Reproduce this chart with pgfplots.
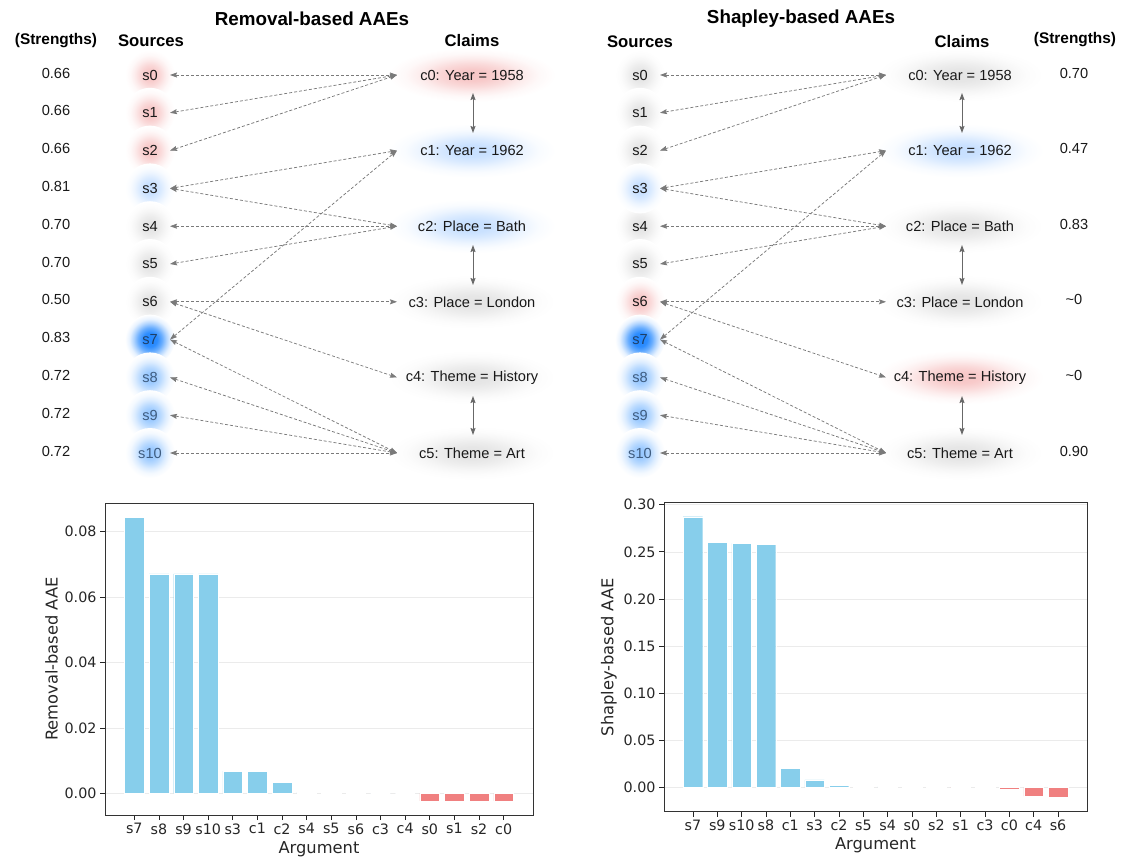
\documentclass[border=0pt]{standalone}
\usepackage{pgfplots}
\pgfplotsset{compat=1.18}
\usepackage{fontspec}
\setmainfont{Liberation Sans}
\newfontfamily\dejavu{DejaVu Sans}
\usetikzlibrary{arrows.meta}

\definecolor{hR}{HTML}{F7C6C6}
\definecolor{hB}{HTML}{C6DFFF}
\definecolor{hG}{HTML}{E4E4E4}
\definecolor{hS}{HTML}{2287FF}
\definecolor{hM}{HTML}{96C7FF}
\definecolor{txtS}{HTML}{1F3F66}
\definecolor{txtM}{HTML}{3E5C80}
\definecolor{edgegray}{HTML}{7A7A7A}
\definecolor{skyb}{HTML}{87CEEB}
\definecolor{lcoral}{HTML}{F08080}

\newcommand\mkhalo[2]{\pgfdeclareradialshading{#1}{\pgfpoint{0bp}{0bp}}{color(0bp)=(#2); color(5.5bp)=(#2!93!white); color(10.5bp)=(#2!66!white); color(15.5bp)=(#2!33!white); color(20bp)=(#2!11!white); color(25bp)=(white); color(50bp)=(white)}}
\mkhalo{haloR}{hR}
\mkhalo{haloB}{hB}
\mkhalo{haloG}{hG}
\mkhalo{haloM}{hM}
\pgfdeclareradialshading{haloS}{\pgfpoint{0bp}{0bp}}{color(0bp)=(hS); color(7bp)=(hS!95!white); color(12bp)=(hS!68!white); color(16.5bp)=(hS!35!white); color(20.5bp)=(hS!11!white); color(25bp)=(white); color(50bp)=(white)}

\newcommand\lab{\fontsize{14.6}{17}\selectfont}
\newcommand\hdr{\fontsize{16.7}{19}\selectfont\bfseries}
\newcommand\hdrs{\fontsize{15.4}{18}\selectfont\bfseries}
\newcommand\ttl{\fontsize{18.8}{22}\selectfont\bfseries}
\newcommand\tickf{\dejavu\fontsize{14.3}{17}\selectfont}
\newcommand\labf{\dejavu\fontsize{16.3}{19}\selectfont}

\tikzset{
  src/.style={circle, shade, shading=#1, minimum size=50pt, font=\lab},
  clh/.style={circle, shade, shading=#1, minimum size=54pt, transform shape, xscale=3.1},
  srcR/.style={src=haloR, text=black!90},
  srcB/.style={src=haloB, text=black!90},
  srcG/.style={src=haloG, text=black!90},
  srcS/.style={src=haloS, text=txtS},
  srcM/.style={src=haloM, text=txtM},
  clR/.style={clh=haloR},
  clB/.style={clh=haloB},
  clG/.style={clh=haloG},
  txt/.style={font=\lab, text=black!90},
  hdrst/.style={font=\hdr, text=black},
  hdrsst/.style={font=\hdrs, text=black},
  ttlst/.style={font=\ttl, text=black},
  edge/.style={draw=edgegray, line width=0.75pt, dash pattern=on 3pt off 2pt,
    arrows={Stealth[length=7pt,width=5pt,inset=1pt]-Stealth[length=7pt,width=5pt,inset=1pt]}},
  vedge/.style={draw=edgegray!85!black, line width=1pt, solid,
    arrows={Stealth[length=7pt,width=5pt,inset=1pt]-Stealth[length=7pt,width=5pt,inset=1pt]}},
}
\pgfplotsset{
  diag/.style={at={(0pt,0pt)}, anchor=north west, scale only axis, width=1128pt, height=480pt,
    xmin=0, xmax=1128, ymin=0, ymax=480, y dir=reverse, hide axis, clip=false},
  lbl/.style={only marks, mark=none, point meta=explicit symbolic, nodes near coords,
    every node near coord/.append style={anchor=center, inner sep=0pt, #1}},
  halo/.style={only marks, mark=none, nodes near coords={},
    every node near coord/.append style={anchor=center, inner sep=0pt, #1}},
  barax/.style={scale only axis, ybar, bar width=0.8, bar shift=0pt, enlargelimits=false,
    xmin=-1.19, xmax=16.19, xtick={0,...,15},
    tick align=outside, major tick length=5pt, xtick pos=left, ytick pos=left,
    tick style={black!85, line width=0.8pt},
    axis line style={black!80, line width=0.8pt},
    ymajorgrids, major grid style={black!8, line width=0.6pt},
    scaled y ticks=false,
    tick label style={font=\tickf, text=black!85},
    yticklabel style={/pgf/number format/.cd, fixed, fixed zerofill, precision=2, assume math mode=true},
    label style={font=\labf, text=black!85},
    xlabel={Argument},
  },
}

\begin{document}
\begin{tikzpicture}
\useasboundingbox (0,0) rectangle (1128pt,-858pt);

% ---------- diagram nodes ----------
\begin{axis}[diag]
% claim halos
\addplot[halo={clR}] coordinates {(472,75) (960,377.4)};
\addplot[halo={clB}] coordinates {(472,150.6) (472,226.2) (960,150.6)};
\addplot[halo={clG}] coordinates {(472,301.8) (472,377.4) (472,453) (960,75) (960,226.2) (960,301.8) (960,453)};
% left sources
\addplot[lbl={srcR}] coordinates {(150,75)[s0] (150,112.8)[s1] (150,150.6)[s2]};
\addplot[lbl={srcB}] coordinates {(150,188.4)[s3]};
\addplot[lbl={srcG}] coordinates {(150,226.2)[s4] (150,264)[s5] (150,301.8)[s6]};
\addplot[lbl={srcS}] coordinates {(150,339.6)[s7]};
\addplot[lbl={srcM}] coordinates {(150,377.4)[s8] (150,415.2)[s9] (150,453)[s10]};
% left claims
\addplot[lbl={txt}] coordinates {(472,75)[c0: Year = 1958] (472,150.6)[c1: Year = 1962] (472,226.2)[c2: Place = Bath] (472,301.8)[c3: Place = London] (472,377.4)[c4: Theme = History] (472,453)[c5: Theme = Art]};
% left strengths
\addplot[lbl={txt}] coordinates {(56,73)[0.66] (56,110.8)[0.66] (56,148.6)[0.66] (56,186.4)[0.81] (56,224.2)[0.70] (56,262)[0.70] (56,299.8)[0.50] (56,337.6)[0.83] (56,375.4)[0.72] (56,413.2)[0.72] (56,451)[0.72]};
% right sources
\addplot[lbl={srcG}] coordinates {(640,75)[s0] (640,112.8)[s1] (640,150.6)[s2] (640,226.2)[s4] (640,264)[s5]};
\addplot[lbl={srcB}] coordinates {(640,188.4)[s3]};
\addplot[lbl={srcR}] coordinates {(640,301.8)[s6]};
\addplot[lbl={srcS}] coordinates {(640,339.6)[s7]};
\addplot[lbl={srcM}] coordinates {(640,377.4)[s8] (640,415.2)[s9] (640,453)[s10]};
% right claims
\addplot[lbl={txt}] coordinates {(960,75)[c0: Year = 1958] (960,150.6)[c1: Year = 1962] (960,226.2)[c2: Place = Bath] (960,301.8)[c3: Place = London] (960,377.4)[c4: Theme = History] (960,453)[c5: Theme = Art]};
% right strengths
\addplot[lbl={txt}] coordinates {(1074,73)[0.70] (1074,148.6)[0.47] (1074,224.2)[0.83] (1074,299.8)[\textasciitilde 0] (1074,375.4)[\textasciitilde 0] (1074,451)[0.90]};
% headers and titles
\addplot[lbl={hdrst}] coordinates {(151,41)[Sources] (472,41)[Claims] (640,42)[Sources] (962,42)[Claims]};
\addplot[lbl={hdrsst}] coordinates {(56,41)[(Strengths)] (1075,40)[(Strengths)]};
\addplot[lbl={ttlst}] coordinates {(312,19)[Removal-based AAEs] (801,19)[Shapley-based AAEs]};
\end{axis}

% ---------- diagram edges (drawn on top) ----------
\begin{axis}[diag]
\addplot[edge] coordinates {(170,75) (397,75)};
\addplot[edge] coordinates {(170,112.8) (397,75)};
\addplot[edge] coordinates {(170,150.6) (397,75)};
\addplot[edge] coordinates {(170,188.4) (397,150.6)};
\addplot[edge] coordinates {(170,188.4) (397,226.2)};
\addplot[edge] coordinates {(170,226.2) (397,226.2)};
\addplot[edge] coordinates {(170,264) (397,226.2)};
\addplot[edge] coordinates {(170,339.6) (397,150.6)};
\addplot[edge] coordinates {(170,301.8) (397,301.8)};
\addplot[edge] coordinates {(170,301.8) (397,377.4)};
\addplot[edge] coordinates {(170,339.6) (397,453)};
\addplot[edge] coordinates {(170,377.4) (397,453)};
\addplot[edge] coordinates {(170,415.2) (397,453)};
\addplot[edge] coordinates {(170,453) (397,453)};
\addplot[vedge] coordinates {(473,93) (473,133)};
\addplot[vedge] coordinates {(473,245) (473,285)};
\addplot[vedge] coordinates {(473,396) (473,435)};
\addplot[edge] coordinates {(660,75) (886,75)};
\addplot[edge] coordinates {(660,112.8) (886,75)};
\addplot[edge] coordinates {(660,150.6) (886,75)};
\addplot[edge] coordinates {(660,188.4) (886,150.6)};
\addplot[edge] coordinates {(660,188.4) (886,226.2)};
\addplot[edge] coordinates {(660,226.2) (886,226.2)};
\addplot[edge] coordinates {(660,264) (886,226.2)};
\addplot[edge] coordinates {(660,339.6) (886,150.6)};
\addplot[edge] coordinates {(660,301.8) (886,301.8)};
\addplot[edge] coordinates {(660,301.8) (886,377.4)};
\addplot[edge] coordinates {(660,339.6) (886,453)};
\addplot[edge] coordinates {(660,377.4) (886,453)};
\addplot[edge] coordinates {(660,415.2) (886,453)};
\addplot[edge] coordinates {(660,453) (886,453)};
\addplot[vedge] coordinates {(962,93) (962,133)};
\addplot[vedge] coordinates {(962,245) (962,285)};
\addplot[vedge] coordinates {(962,396) (962,435)};
\end{axis}

% ---------- left bar chart ----------
\begin{axis}[barax, at={(105pt,-503pt)}, anchor=north west, width=428pt, height=312pt,
  ymin=-0.0066, ymax=0.0888, ytick={0,0.02,0.04,0.06,0.08},
  xticklabels={s7,s8,s9,s10,s3,c1,c2,s4,s5,s6,c3,c4,s0,s1,s2,c0},
  ylabel={Removal-based AAE}]
\addplot[fill=skyb, draw=white, line width=0.4pt] coordinates {(0,0.0845) (1,0.0671) (2,0.0671) (3,0.0671) (4,0.0068) (5,0.0068) (6,0.0034) (7,0.0003) (8,0.0003) (9,0) (10,0) (11,0)};
\addplot[fill=lcoral, draw=white, line width=0.4pt] coordinates {(12,-0.00225) (13,-0.00225) (14,-0.00225) (15,-0.00225)};
\end{axis}

% ---------- right bar chart ----------
\begin{axis}[barax, at={(664pt,-502.7pt)}, anchor=north west, width=423pt, height=309pt,
  ymin=-0.0257, ymax=0.3021, ytick={0,0.05,0.10,0.15,0.20,0.25,0.30},
  xticklabels={s7,s9,s10,s8,c1,s3,c2,s5,s4,s0,s2,s1,c3,c0,c4,s6},
  ylabel={Shapley-based AAE}]
\addplot[fill=skyb, draw=white, line width=0.4pt] coordinates {(0,0.2872) (1,0.2600) (2,0.2590) (3,0.2580) (4,0.0204) (5,0.0081) (6,0.0021) (7,0.0010) (8,0.0010)};
\addplot[fill=lcoral, draw=white, line width=0.4pt] coordinates {(9,-0.0004) (10,-0.0004) (11,-0.0004) (12,-0.0004) (13,-0.0018) (14,-0.0095) (15,-0.0106)};
\end{axis}
\end{tikzpicture}
\end{document}
